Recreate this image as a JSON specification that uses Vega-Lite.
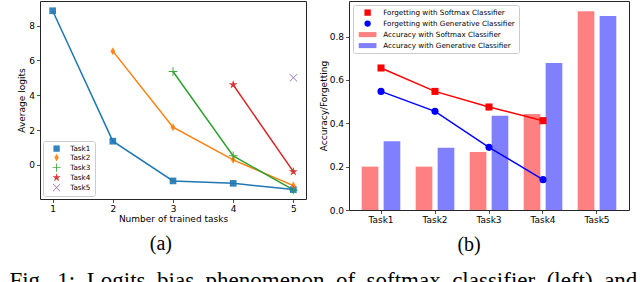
{
  "$schema": "https://vega.github.io/schema/vega-lite/v6.json",
  "background": "white",
  "padding": {"left": 9, "top": 0, "right": 0, "bottom": 0},
  "spacing": 11,
  "resolve": {"scale": {"color": "independent", "shape": "independent", "x": "independent", "y": "independent"}, "legend": {"color": "independent", "shape": "independent"}},
  "config": {
    "font": "DejaVu Sans",
    "view": {"stroke": "#262626", "strokeWidth": 1},
    "axis": {
      "domain": false, "grid": false, "tickColor": "#262626", "tickSize": 3.5, "tickWidth": 0.8,
      "labelFont": "DejaVu Sans", "labelFontSize": 9, "labelColor": "#000000", "labelPadding": 2,
      "titleFont": "DejaVu Sans", "titleFontSize": 9, "titleFontWeight": "normal", "titleColor": "#000000"
    },
    "legend": {
      "labelFont": "DejaVu Sans", "labelFontSize": 7.2, "labelColor": "#000000",
      "fillColor": "white", "strokeColor": "#cccccc", "cornerRadius": 2, "padding": 4
    }
  },
  "title": {
    "text": "Fig.\u20021:\u2002Logits\u2002bias\u2002phenomenon\u2002of\u2002softmax\u2002classifier\u2002(left)\u2002and",
    "orient": "bottom", "anchor": "middle", "font": "Liberation Serif", "fontSize": 23,
    "fontWeight": "normal", "color": "#000000", "offset": 15
  },
  "hconcat": [
    {
      "width": 266,
      "height": 198,
      "title": {"text": "(a)", "orient": "bottom", "anchor": "middle", "frame": "bounds", "font": "Liberation Serif", "fontSize": 20, "fontWeight": "normal", "color": "#000000", "offset": 10, "dx": -1},
      "data": {"values": [
        {"task": "Task1", "n": 1, "v": 8.85},
        {"task": "Task1", "n": 2, "v": 1.36},
        {"task": "Task1", "n": 3, "v": -0.92},
        {"task": "Task1", "n": 4, "v": -1.06},
        {"task": "Task1", "n": 5, "v": -1.42},
        {"task": "Task2", "n": 2, "v": 6.53},
        {"task": "Task2", "n": 3, "v": 2.16},
        {"task": "Task2", "n": 4, "v": 0.29},
        {"task": "Task2", "n": 5, "v": -1.19},
        {"task": "Task3", "n": 3, "v": 5.36},
        {"task": "Task3", "n": 4, "v": 0.52},
        {"task": "Task3", "n": 5, "v": -1.44},
        {"task": "Task4", "n": 4, "v": 4.6},
        {"task": "Task4", "n": 5, "v": -0.39},
        {"task": "Task5", "n": 5, "v": 5.0}
      ]},
      "encoding": {
        "x": {"field": "n", "type": "quantitative", "scale": {"domain": [0.79, 5.21], "nice": false, "zero": false},
              "axis": {"values": [1, 2, 3, 4, 5], "format": "d", "title": "Number of trained tasks", "titlePadding": 1}},
        "y": {"field": "v", "type": "quantitative", "scale": {"domain": [-1.96, 9.41], "nice": false, "zero": false},
              "axis": {"values": [0, 2, 4, 6, 8], "format": "d", "title": "Average logits", "titlePadding": 2}},
        "color": {"field": "task", "type": "nominal",
          "scale": {"domain": ["Task1", "Task2", "Task3", "Task4", "Task5"], "range": ["#1f77b4", "#ff7f0e", "#2ca02c", "#d62728", "#9467bd"]},
          "legend": {"title": null, "orient": "bottom-left", "offset": 3, "symbolSize": 40, "symbolStrokeWidth": 0, "symbolOffset": 6, "labelOffset": 10, "rowPadding": 1}
        }
      },
      "layer": [
        {"mark": {"type": "line", "strokeWidth": 1.5}},
        {"mark": {"type": "point", "filled": true, "size": 45, "opacity": 0.9},
         "encoding": {
           "shape": {"field": "task", "type": "nominal",
             "legend": {"title": null, "orient": "bottom-left", "offset": 3, "symbolSize": 40, "symbolStrokeWidth": 0, "symbolOffset": 6, "labelOffset": 10, "rowPadding": 1},
             "scale": {"domain": ["Task1", "Task2", "Task3", "Task4", "Task5"],
               "range": [
                 "M-1,-1H1V1H-1Z",
                 "M0,-1.2L0.7,0L0,1.2L-0.7,0Z",
                 "M-1.3,-0.15H-0.15V-1.3H0.15V-0.15H1.3V0.15H0.15V1.3H-0.15V0.15H-1.3Z",
                 "M0,-1.4L0.312,-0.43L1.331,-0.433L0.505,0.164L0.823,1.133L0,0.532L-0.823,1.133L-0.505,0.164L-1.331,-0.433L-0.312,-0.43Z",
                 "M-1.2,-1.04L-1.04,-1.2L0,-0.16L1.04,-1.2L1.2,-1.04L0.16,0L1.2,1.04L1.04,1.2L0,0.16L-1.04,1.2L-1.2,1.04L-0.16,0Z"
               ]}}
         }}
      ]
    },
    {
      "width": 280,
      "height": 209,
      "title": {"text": "(b)", "orient": "bottom", "anchor": "middle", "frame": "bounds", "font": "Liberation Serif", "fontSize": 20, "fontWeight": "normal", "color": "#000000", "offset": 10, "dx": -5},
      "encoding": {
        "x": {"field": "task", "type": "nominal", "sort": ["Task1", "Task2", "Task3", "Task4", "Task5"],
              "scale": {"domain": ["Task1", "Task2", "Task3", "Task4", "Task5"], "paddingInner": 0, "paddingOuter": 0.0926},
              "axis": {"title": null, "labelAngle": 0}},
        "y": {"field": "value", "type": "quantitative", "scale": {"domain": [0, 0.964], "nice": false, "zero": false},
              "axis": {"values": [0, 0.2, 0.4, 0.6, 0.8], "format": ".1f", "title": "Accuracy/Forgetting", "titlePadding": 1}},
        "color": {"field": "series", "type": "nominal",
          "scale": {"domain": ["Forgetting with Softmax Classifier", "Forgetting with Generative Classifier", "Accuracy with Softmax Classifier", "Accuracy with Generative Classifier"],
                    "range": ["#ff0000", "#0000ff", "#ff8080", "#8080ff"]},
          "legend": {"title": null, "orient": "top-left", "offset": 4, "symbolSize": 40, "symbolStrokeWidth": 0, "symbolOffset": 7, "labelOffset": 12, "rowPadding": 3}
        }
      },
      "layer": [
        {
          "data": {"values": [
            {"task": "Task1", "series": "Accuracy with Softmax Classifier", "value": 0.2},
            {"task": "Task2", "series": "Accuracy with Softmax Classifier", "value": 0.2},
            {"task": "Task3", "series": "Accuracy with Softmax Classifier", "value": 0.268},
            {"task": "Task4", "series": "Accuracy with Softmax Classifier", "value": 0.443},
            {"task": "Task5", "series": "Accuracy with Softmax Classifier", "value": 0.917},
            {"task": "Task1", "series": "Accuracy with Generative Classifier", "value": 0.317},
            {"task": "Task2", "series": "Accuracy with Generative Classifier", "value": 0.287},
            {"task": "Task3", "series": "Accuracy with Generative Classifier", "value": 0.435},
            {"task": "Task4", "series": "Accuracy with Generative Classifier", "value": 0.678},
            {"task": "Task5", "series": "Accuracy with Generative Classifier", "value": 0.895}
          ]},
          "mark": {"type": "bar"},
          "encoding": {
            "xOffset": {"field": "series", "type": "nominal",
              "scale": {"domain": ["Accuracy with Softmax Classifier", "Accuracy with Generative Classifier"], "paddingInner": 0.24, "paddingOuter": 0.35}}
          }
        },
        {
          "data": {"values": [
            {"task": "Task1", "series": "Forgetting with Softmax Classifier", "value": 0.655},
            {"task": "Task2", "series": "Forgetting with Softmax Classifier", "value": 0.547},
            {"task": "Task3", "series": "Forgetting with Softmax Classifier", "value": 0.475},
            {"task": "Task4", "series": "Forgetting with Softmax Classifier", "value": 0.412},
            {"task": "Task1", "series": "Forgetting with Generative Classifier", "value": 0.547},
            {"task": "Task2", "series": "Forgetting with Generative Classifier", "value": 0.455},
            {"task": "Task3", "series": "Forgetting with Generative Classifier", "value": 0.289},
            {"task": "Task4", "series": "Forgetting with Generative Classifier", "value": 0.14}
          ]},
          "layer": [
            {"mark": {"type": "line", "strokeWidth": 1.5}},
            {"mark": {"type": "point", "filled": true, "opacity": 1, "size": 50},
             "encoding": {"shape": {"field": "series", "type": "nominal",
               "legend": {"title": null, "orient": "top-left", "offset": 4, "symbolSize": 40, "symbolStrokeWidth": 0, "symbolOffset": 7, "labelOffset": 12, "rowPadding": 3},
               "scale": {"domain": ["Forgetting with Softmax Classifier", "Forgetting with Generative Classifier", "Accuracy with Softmax Classifier", "Accuracy with Generative Classifier"],
                         "range": ["square", "circle", "M-2.8,-0.8H2.8V0.8H-2.8Z", "M-2.8,-0.8H2.8V0.8H-2.8Z"]}}}}
          ]
        }
      ]
    }
  ]
}
